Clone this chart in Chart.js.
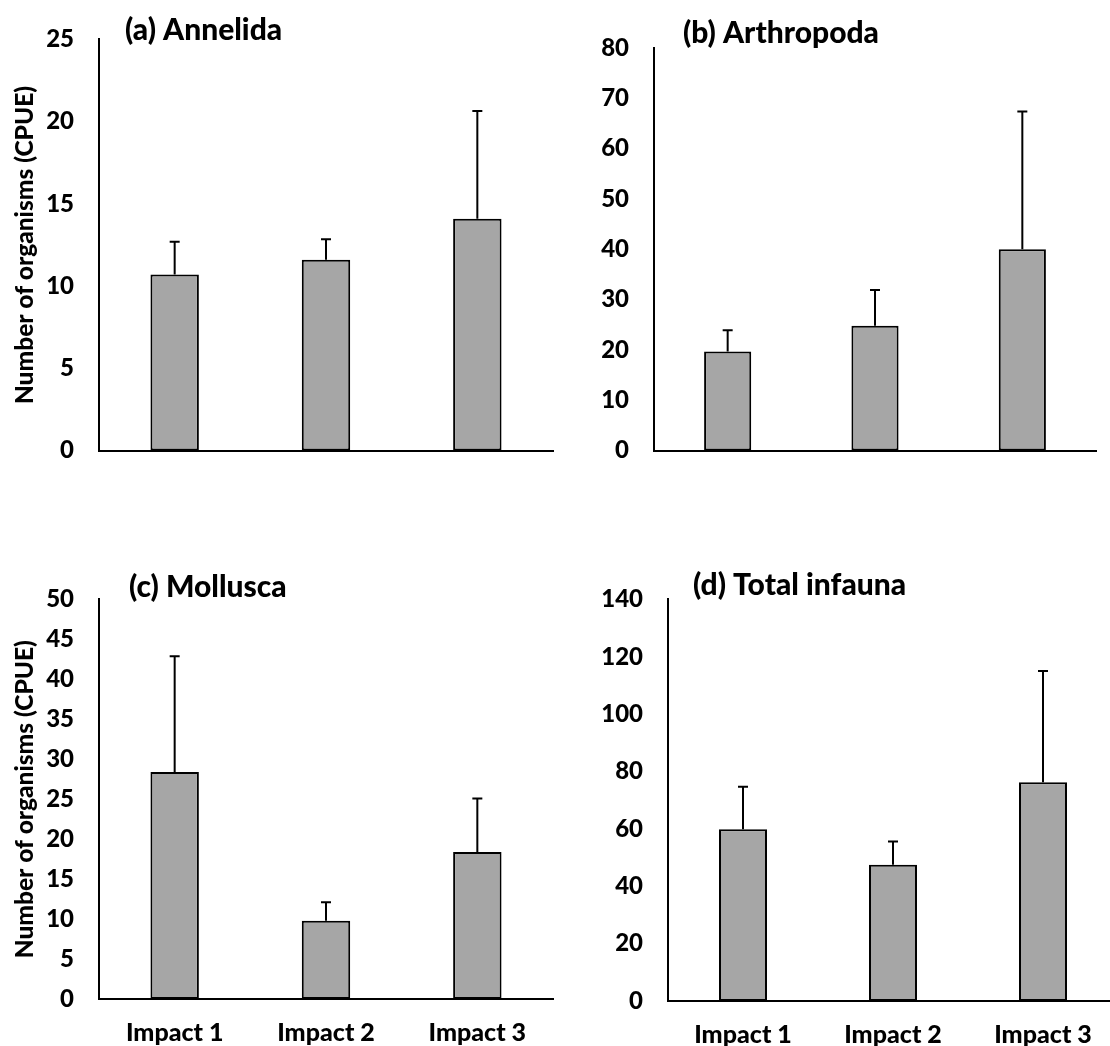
<!DOCTYPE html>
<html>
<head>
<meta charset="utf-8">
<script src="https://cdn.jsdelivr.net/npm/chart.js@4.4.0/dist/chart.umd.min.js"></script>
<style>
  html, body { margin: 0; padding: 0; background: #fff; overflow: hidden; }
  #wrap { position: relative; width: 1110px; height: 1046px; }
  canvas { position: absolute; }
</style>
</head>
<body>
<div id="wrap">
  <canvas id="chartA" width="560" height="490" style="left:0;top:0"></canvas>
  <canvas id="chartB" width="550" height="490" style="left:560px;top:0"></canvas>
  <canvas id="chartC" width="560" height="486" style="left:0;top:560px"></canvas>
  <canvas id="chartD" width="560" height="486" style="left:560px;top:560px"></canvas>
</div>
<script>
// Dane (średnia + błąd)
const sites = ["Impact 1", "Impact 2", "Impact 3"];

const annelidaMean = [10.7, 11.6, 14.1];
const annelidaErr = [2.0, 1.25, 6.55];
const annelidaTicks = [0, 5, 10, 15, 20, 25];

const arthropodaMean = [19.7, 24.8, 40.0];
const arthropodaErr = [4.2, 7.1, 27.4];
const arthropodaTicks = [0, 10, 20, 30, 40, 50, 60, 70, 80];

const molluscaMean = [28.4, 9.8, 18.4];
const molluscaErr = [14.5, 2.3, 6.7];
const molluscaTicks = [0, 5, 10, 15, 20, 25, 30, 35, 40, 45, 50];

const totalMean = [59.9, 47.5, 76.3];
const totalErr = [14.8, 8.1, 38.7];
const totalTicks = [0, 20, 40, 60, 80, 100, 120, 140];

const FONT = "Lato, 'Open Sans', sans-serif";
const WEIGHT = "900";

// Słupki błędów rysowane przez skalę osi Y
const errorBars = {
  id: "errorBars",
  afterDatasetsDraw(chart) {
    const ctx = chart.ctx;
    const yScale = chart.scales.y;
    const ds = chart.data.datasets[0];
    const meta = chart.getDatasetMeta(0);
    ctx.save();
    ctx.strokeStyle = "#000";
    ctx.lineWidth = 2;
    meta.data.forEach((bar, i) => {
      const top = yScale.getPixelForValue(ds.data[i] + ds.errors[i]);
      ctx.beginPath();
      ctx.moveTo(bar.x, bar.y);
      ctx.lineTo(bar.x, top);
      ctx.moveTo(bar.x - 5, top);
      ctx.lineTo(bar.x + 5, top);
      ctx.stroke();
    });
    ctx.restore();
  }
};

// Podpis panelu w lewym górnym rogu
const panelLabel = {
  id: "panelLabel",
  afterDraw(chart, args, opts) {
    const ctx = chart.ctx;
    ctx.save();
    ctx.font = WEIGHT + " 30px " + FONT;
    ctx.fillStyle = "#000";
    ctx.textBaseline = "middle";
    ctx.fillText(opts.text, chart.chartArea.left + opts.dx, opts.y);
    ctx.restore();
  }
};

function makePanel(id, cfg) {
  const ctx = document.getElementById(id).getContext("2d");
  return new Chart(ctx, {
    type: "bar",
    data: {
      labels: sites,
      datasets: [{
        data: cfg.mean,
        errors: cfg.err,
        backgroundColor: "#a6a6a6",
        borderColor: "#000",
        borderWidth: 2,
        borderSkipped: false,
        barPercentage: 0.32,
        categoryPercentage: 1
      }]
    },
    options: {
      responsive: false,
      animation: false,
      events: [],
      layout: { padding: cfg.padding },
      plugins: {
        legend: { display: false },
        tooltip: { enabled: false },
        panelLabel: { text: cfg.title, dx: cfg.titleDx, y: cfg.titleY }
      },
      scales: {
        x: {
          grid: { display: false, drawTicks: false },
          border: { display: true, color: "#000", width: 2 },
          ticks: {
            display: cfg.showX,
            color: "#000",
            padding: 19,
            font: { family: FONT, size: 25, weight: WEIGHT }
          },
          afterFit: s => { s.height = cfg.xHeight; }
        },
        y: {
          min: 0,
          max: cfg.ticks[cfg.ticks.length - 1],
          afterBuildTicks: s => { s.ticks = cfg.ticks.map(v => ({ value: v })); },
          grid: { display: false, drawTicks: false },
          border: { display: true, color: "#000", width: 2 },
          ticks: {
            color: "#000",
            padding: 25,
            font: { family: FONT, size: 24, weight: WEIGHT }
          },
          title: {
            display: cfg.showYTitle,
            text: "Number of organisms (CPUE)",
            color: "#000",
            padding: { top: 10, bottom: 0 },
            font: { family: FONT, size: 24.5, weight: WEIGHT }
          },
          afterFit: s => { s.width = cfg.yWidth; }
        }
      }
    },
    plugins: [errorBars, panelLabel]
  });
}

makePanel("chartA", {
  mean: annelidaMean, err: annelidaErr, ticks: annelidaTicks,
  title: "(a) Annelida", titleDx: 26, titleY: 30,
  padding: { left: 0, top: 37, right: 7, bottom: 34 },
  yWidth: 99, xHeight: 0, showX: false, showYTitle: true
});

makePanel("chartB", {
  mean: arthropodaMean, err: arthropodaErr, ticks: arthropodaTicks,
  title: "(b) Arthropoda", titleDx: 29, titleY: 33,
  padding: { left: 0, top: 48, right: 14, bottom: 33 },
  yWidth: 94, xHeight: 0, showX: false, showYTitle: false
});

makePanel("chartC", {
  mean: molluscaMean, err: molluscaErr, ticks: molluscaTicks,
  title: "(c) Mollusca", titleDx: 30, titleY: 27,
  padding: { left: 0, top: 37, right: 7, bottom: 0 },
  yWidth: 99, xHeight: 47, showX: true, showYTitle: true
});

makePanel("chartD", {
  mean: totalMean, err: totalErr, ticks: totalTicks,
  title: "(d) Total infauna", titleDx: 25, titleY: 25,
  padding: { left: 0, top: 24, right: 2, bottom: 0 },
  yWidth: 108, xHeight: 45, showX: true, showYTitle: false
});
</script>
</body>
</html>
